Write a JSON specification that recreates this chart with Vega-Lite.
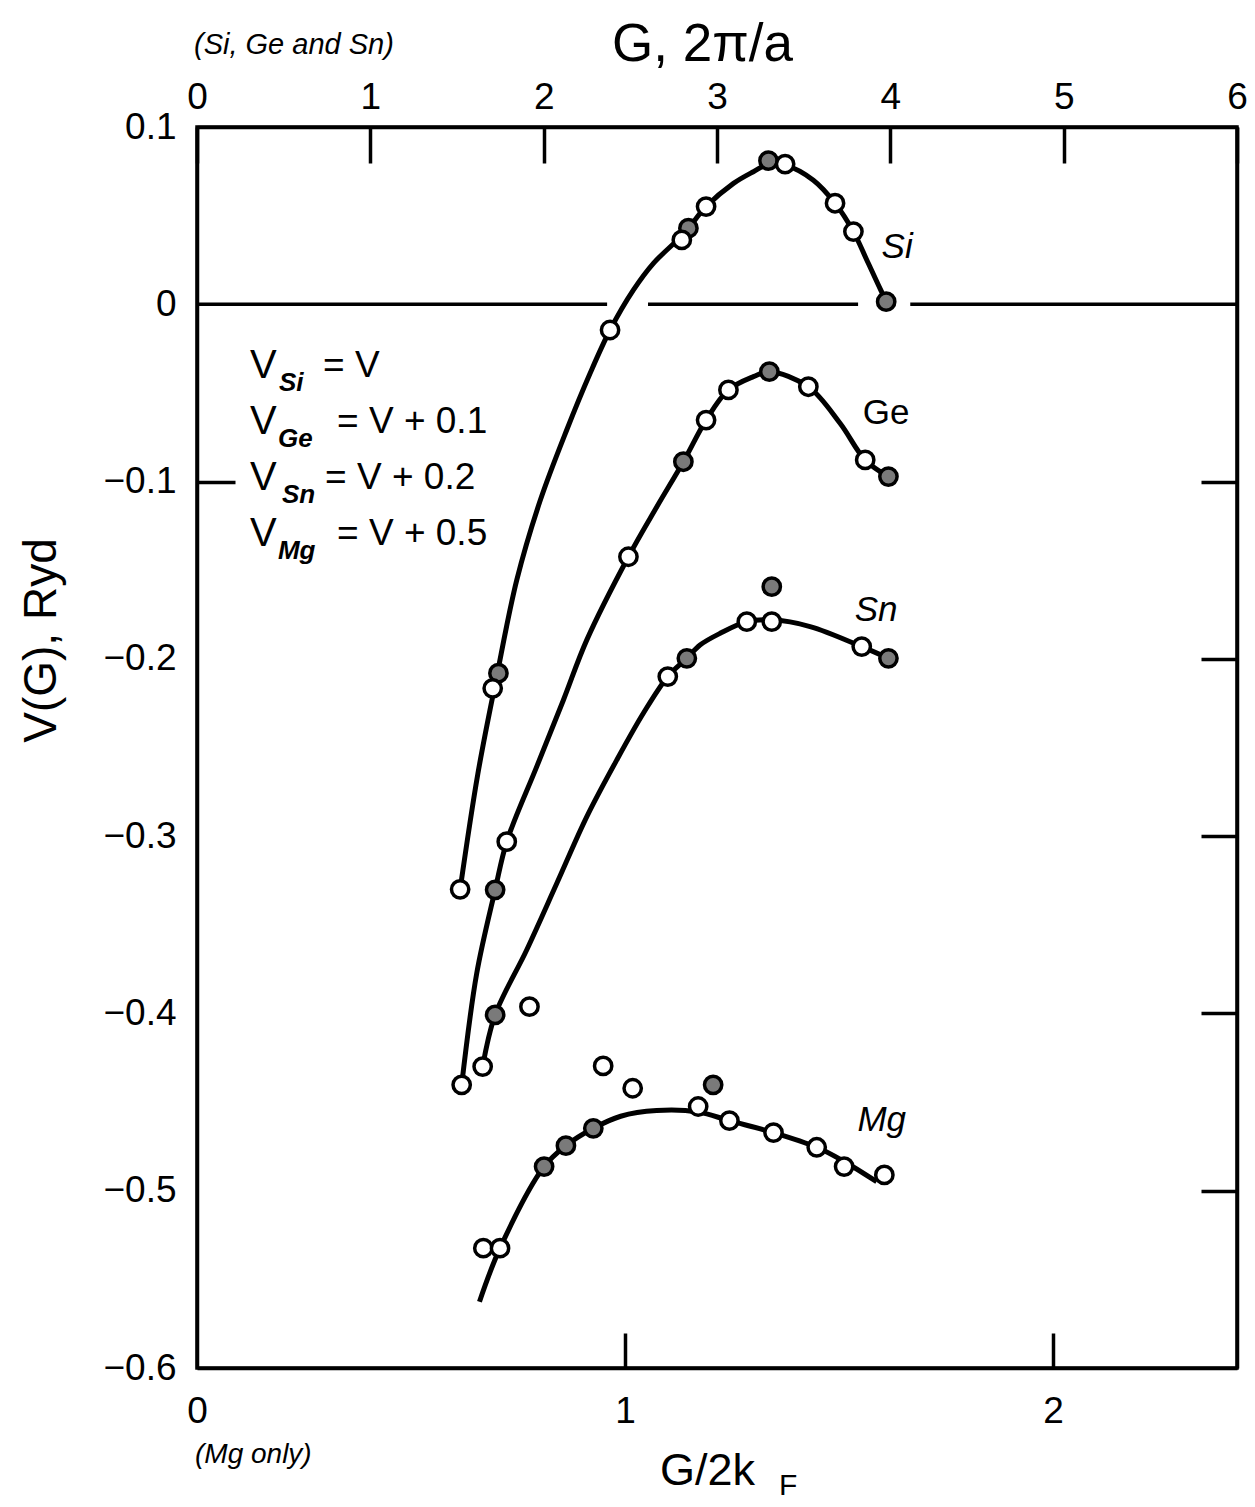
{
  "$schema": "https://vega.github.io/schema/vega-lite/v6.json",
  "width": 1040,
  "height": 1241,
  "autosize": {"type": "none"},
  "padding": {"left": 197, "top": 127, "right": 18, "bottom": 139},
  "background": "white",
  "config": {
    "view": {"stroke": "black", "strokeWidth": 3.5},
    "font": "Liberation Sans",
    "axis": {
      "domainColor": "black", "domainWidth": 3.5, "tickColor": "black", "tickWidth": 3.5,
      "labelColor": "black", "titleColor": "black", "labelFont": "Liberation Sans", "titleFont": "Liberation Sans",
      "labelFontSize": 37, "titleFontSize": 46, "titleFontWeight": "normal", "grid": false,
      "labelFlush": false, "labelOverlap": false, "labelBound": false
    }
  },
  "datasets": {
    "zero": [
      {"G": 0, "G2": 2.366, "V": 0},
      {"G": 2.602, "G2": 3.814, "V": 0},
      {"G": 4.115, "G2": 6, "V": 0}
    ],
    "sgsCurve": [
      {"series": "Si", "G": 1.518, "V": -0.330},
      {"series": "Si", "G": 1.62, "V": -0.265},
      {"series": "Si", "G": 1.725, "V": -0.212},
      {"series": "Si", "G": 1.845, "V": -0.1555},
      {"series": "Si", "G": 1.979, "V": -0.111},
      {"series": "Si", "G": 2.133, "V": -0.0709},
      {"series": "Si", "G": 2.268, "V": -0.0389},
      {"series": "Si", "G": 2.383, "V": -0.0145},
      {"series": "Si", "G": 2.518, "V": 0.0081},
      {"series": "Si", "G": 2.633, "V": 0.0231},
      {"series": "Si", "G": 2.81, "V": 0.040},
      {"series": "Si", "G": 2.937, "V": 0.0551},
      {"series": "Si", "G": 3.095, "V": 0.0682},
      {"series": "Si", "G": 3.21, "V": 0.0748},
      {"series": "Si", "G": 3.297, "V": 0.079},
      {"series": "Si", "G": 3.393, "V": 0.0785},
      {"series": "Si", "G": 3.556, "V": 0.070},
      {"series": "Si", "G": 3.681, "V": 0.057},
      {"series": "Si", "G": 3.787, "V": 0.041},
      {"series": "Si", "G": 3.864, "V": 0.025},
      {"series": "Si", "G": 3.931, "V": 0.0109},
      {"series": "Si", "G": 3.976, "V": 0.0015},
      {"series": "Ge", "G": 1.527, "V": -0.4403},
      {"series": "Ge", "G": 1.614, "V": -0.3773},
      {"series": "Ge", "G": 1.720, "V": -0.3303},
      {"series": "Ge", "G": 1.787, "V": -0.3031},
      {"series": "Ge", "G": 1.960, "V": -0.2608},
      {"series": "Ge", "G": 2.114, "V": -0.2232},
      {"series": "Ge", "G": 2.249, "V": -0.1893},
      {"series": "Ge", "G": 2.489, "V": -0.1424},
      {"series": "Ge", "G": 2.653, "V": -0.1142},
      {"series": "Ge", "G": 2.806, "V": -0.0888},
      {"series": "Ge", "G": 2.937, "V": -0.0653},
      {"series": "Ge", "G": 3.066, "V": -0.0483},
      {"series": "Ge", "G": 3.21, "V": -0.0408},
      {"series": "Ge", "G": 3.302, "V": -0.038},
      {"series": "Ge", "G": 3.527, "V": -0.0465},
      {"series": "Ge", "G": 3.710, "V": -0.0671},
      {"series": "Ge", "G": 3.855, "V": -0.0878},
      {"series": "Ge", "G": 3.989, "V": -0.0972},
      {"series": "Sn", "G": 1.648, "V": -0.430},
      {"series": "Sn", "G": 1.720, "V": -0.4008},
      {"series": "Sn", "G": 1.902, "V": -0.3642},
      {"series": "Sn", "G": 2.076, "V": -0.3266},
      {"series": "Sn", "G": 2.249, "V": -0.289},
      {"series": "Sn", "G": 2.422, "V": -0.257},
      {"series": "Sn", "G": 2.575, "V": -0.2307},
      {"series": "Sn", "G": 2.716, "V": -0.210},
      {"series": "Sn", "G": 2.826, "V": -0.1997},
      {"series": "Sn", "G": 2.902, "V": -0.1922},
      {"series": "Sn", "G": 3.018, "V": -0.1856},
      {"series": "Sn", "G": 3.172, "V": -0.179},
      {"series": "Sn", "G": 3.316, "V": -0.178},
      {"series": "Sn", "G": 3.537, "V": -0.1818},
      {"series": "Sn", "G": 3.835, "V": -0.1931},
      {"series": "Sn", "G": 3.989, "V": -0.1997}
    ],
    "sgsPts": [
      {"series": "Si", "G": 1.518, "V": -0.330, "kind": "open"},
      {"series": "Si", "G": 1.739, "V": -0.2081, "kind": "filled"},
      {"series": "Si", "G": 1.706, "V": -0.2166, "kind": "open"},
      {"series": "Si", "G": 2.383, "V": -0.0145, "kind": "open"},
      {"series": "Si", "G": 2.835, "V": 0.0429, "kind": "filled"},
      {"series": "Si", "G": 2.797, "V": 0.0363, "kind": "open"},
      {"series": "Si", "G": 2.937, "V": 0.0551, "kind": "open"},
      {"series": "Si", "G": 3.297, "V": 0.081, "kind": "filled"},
      {"series": "Si", "G": 3.393, "V": 0.0791, "kind": "open"},
      {"series": "Si", "G": 3.681, "V": 0.057, "kind": "open"},
      {"series": "Si", "G": 3.787, "V": 0.041, "kind": "open"},
      {"series": "Si", "G": 3.976, "V": 0.0015, "kind": "filled"},
      {"series": "Ge", "G": 1.527, "V": -0.4403, "kind": "open"},
      {"series": "Ge", "G": 1.720, "V": -0.3303, "kind": "filled"},
      {"series": "Ge", "G": 1.787, "V": -0.3031, "kind": "open"},
      {"series": "Ge", "G": 2.489, "V": -0.1424, "kind": "open"},
      {"series": "Ge", "G": 2.806, "V": -0.0888, "kind": "filled"},
      {"series": "Ge", "G": 2.937, "V": -0.0653, "kind": "open"},
      {"series": "Ge", "G": 3.066, "V": -0.0483, "kind": "open"},
      {"series": "Ge", "G": 3.302, "V": -0.038, "kind": "filled"},
      {"series": "Ge", "G": 3.527, "V": -0.0465, "kind": "open"},
      {"series": "Ge", "G": 3.855, "V": -0.0878, "kind": "open"},
      {"series": "Ge", "G": 3.989, "V": -0.0972, "kind": "filled"},
      {"series": "Sn", "G": 1.648, "V": -0.430, "kind": "open"},
      {"series": "Sn", "G": 1.720, "V": -0.4008, "kind": "filled"},
      {"series": "Sn", "G": 1.918, "V": -0.3962, "kind": "open"},
      {"series": "Sn", "G": 2.716, "V": -0.210, "kind": "open"},
      {"series": "Sn", "G": 2.826, "V": -0.1997, "kind": "filled"},
      {"series": "Sn", "G": 3.172, "V": -0.179, "kind": "open"},
      {"series": "Sn", "G": 3.316, "V": -0.179, "kind": "open"},
      {"series": "Sn", "G": 3.316, "V": -0.1593, "kind": "filled"},
      {"series": "Sn", "G": 3.835, "V": -0.1931, "kind": "open"},
      {"series": "Sn", "G": 3.989, "V": -0.1997, "kind": "filled"}
    ],
    "seriesLabels": [
      {"name": "Si", "G": 4.039, "V": 0.0323},
      {"name": "Ge", "G": 3.976, "V": -0.0613},
      {"name": "Sn", "G": 3.918, "V": -0.1724}
    ],
    "formula": [
      {"part": "V", "t": "V", "G": 0.306, "V": -0.0346},
      {"part": "V", "t": "V", "G": 0.306, "V": -0.0662},
      {"part": "V", "t": "V", "G": 0.306, "V": -0.0978},
      {"part": "V", "t": "V", "G": 0.306, "V": -0.1294},
      {"part": "sub", "t": "Si", "G": 0.473, "V": -0.0346},
      {"part": "sub", "t": "Ge", "G": 0.467, "V": -0.0662},
      {"part": "sub", "t": "Sn", "G": 0.490, "V": -0.0978},
      {"part": "sub", "t": "Mg", "G": 0.467, "V": -0.1294},
      {"part": "rhs", "t": "= V", "G": 0.727, "V": -0.0346},
      {"part": "rhs", "t": "= V + 0.1", "G": 0.808, "V": -0.0662},
      {"part": "rhs", "t": "= V + 0.2", "G": 0.739, "V": -0.0978},
      {"part": "rhs", "t": "= V + 0.5", "G": 0.808, "V": -0.1294}
    ],
    "topNote": [
      {"t": "(Si, Ge and Sn)", "G": 0, "V": 0.146}
    ],
    "mgCurve": [
      {"x": 0.660, "V": -0.5626},
      {"x": 0.708, "V": -0.5324},
      {"x": 0.811, "V": -0.4864},
      {"x": 0.862, "V": -0.4746},
      {"x": 0.926, "V": -0.4648},
      {"x": 0.990, "V": -0.4580},
      {"x": 1.074, "V": -0.4548},
      {"x": 1.171, "V": -0.4556},
      {"x": 1.244, "V": -0.4605},
      {"x": 1.347, "V": -0.4672},
      {"x": 1.448, "V": -0.4755},
      {"x": 1.512, "V": -0.4835},
      {"x": 1.588, "V": -0.4949}
    ],
    "mgPts": [
      {"x": 0.669, "V": -0.5324, "kind": "open"},
      {"x": 0.708, "V": -0.5324, "kind": "open"},
      {"x": 0.811, "V": -0.4864, "kind": "filled"},
      {"x": 0.862, "V": -0.4746, "kind": "filled"},
      {"x": 0.926, "V": -0.4648, "kind": "filled"},
      {"x": 0.949, "V": -0.4296, "kind": "open"},
      {"x": 1.018, "V": -0.4422, "kind": "open"},
      {"x": 1.171, "V": -0.4525, "kind": "open"},
      {"x": 1.206, "V": -0.4403, "kind": "filled"},
      {"x": 1.244, "V": -0.4605, "kind": "open"},
      {"x": 1.347, "V": -0.4672, "kind": "open"},
      {"x": 1.448, "V": -0.4755, "kind": "open"},
      {"x": 1.512, "V": -0.4864, "kind": "open"},
      {"x": 1.606, "V": -0.4911, "kind": "open"}
    ],
    "mgText": [
      {"part": "label", "t": "Mg", "x": 1.600, "V": -0.460},
      {"part": "note", "t": "(Mg only)", "x": 0, "V": -0.649},
      {"part": "sub", "t": "F", "x": 1.381, "V": -0.6665}
    ]
  },
  "layer": [
    {
      "encoding": {
        "x": {
          "field": "G", "type": "quantitative",
          "scale": {"domain": [0, 6], "nice": false, "zero": false},
          "axis": {
            "orient": "top", "values": [0, 1, 2, 3, 4, 5, 6], "format": "d",
            "tickSize": -36, "labelPadding": 47,
            "title": "G,  2π/a", "titleFontSize": 53, "titleX": 505, "titleY": -83,
            "titleAlign": "center", "titleBaseline": "middle", "titleAngle": 0
          }
        },
        "y": {
          "field": "V", "type": "quantitative",
          "scale": {"domain": [-0.6, 0.1], "nice": false, "zero": false},
          "axis": {
            "orient": "left", "values": [0.1, 0, -0.1, -0.2, -0.3, -0.4, -0.5, -0.6],
            "labelExpr": "datum.value == 0 ? '0' : format(datum.value, '.1f')",
            "tickSize": -38,
            "tickOpacity": {"condition": {"test": "abs(datum.value + 0.1) < 0.001", "value": 1}, "value": 0},
            "labelPadding": 59,
            "title": "V(G), Ryd", "titleFontSize": 46, "titleX": -156, "titleY": 513,
            "titleAngle": -90, "titleAlign": "center", "titleBaseline": "middle"
          }
        }
      },
      "layer": [
        {
          "data": {"name": "zero"},
          "mark": {"type": "rule", "strokeWidth": 3.5, "color": "black"},
          "encoding": {"x2": {"field": "G2"}}
        },
        {
          "data": {"name": "sgsCurve"},
          "mark": {"type": "line", "interpolate": "catmull-rom", "strokeWidth": 5, "color": "black"},
          "encoding": {"detail": {"field": "series", "type": "nominal"}}
        },
        {
          "data": {"name": "sgsPts"},
          "mark": {"type": "point", "shape": "circle", "filled": true, "size": 300, "stroke": "black", "strokeWidth": 3.5, "opacity": 1},
          "encoding": {
            "fill": {"field": "kind", "type": "nominal", "scale": {"domain": ["open", "filled"], "range": ["white", "#7a7a7a"]}, "legend": null}
          }
        },
        {
          "data": {"name": "seriesLabels"},
          "transform": [{"filter": "datum.name != 'Ge'"}],
          "mark": {"type": "text", "fontSize": 35, "fontStyle": "italic", "align": "center", "baseline": "middle"},
          "encoding": {"text": {"field": "name"}}
        },
        {
          "data": {"name": "seriesLabels"},
          "transform": [{"filter": "datum.name == 'Ge'"}],
          "mark": {"type": "text", "fontSize": 35, "align": "center", "baseline": "middle"},
          "encoding": {"text": {"field": "name"}}
        },
        {
          "data": {"name": "formula"},
          "transform": [{"filter": "datum.part == 'V'"}],
          "mark": {"type": "text", "fontSize": 40, "align": "left", "baseline": "middle"},
          "encoding": {"text": {"field": "t"}}
        },
        {
          "data": {"name": "formula"},
          "transform": [{"filter": "datum.part == 'sub'"}],
          "mark": {"type": "text", "fontSize": 26, "fontStyle": "italic", "fontWeight": "bold", "align": "left", "baseline": "middle", "dy": 17},
          "encoding": {"text": {"field": "t"}}
        },
        {
          "data": {"name": "formula"},
          "transform": [{"filter": "datum.part == 'rhs'"}],
          "mark": {"type": "text", "fontSize": 37, "align": "left", "baseline": "middle"},
          "encoding": {"text": {"field": "t"}}
        },
        {
          "data": {"name": "topNote"},
          "mark": {"type": "text", "fontSize": 29, "fontStyle": "italic", "align": "left", "baseline": "middle", "dx": -3},
          "encoding": {"text": {"field": "t"}}
        }
      ]
    },
    {
      "encoding": {
        "x": {
          "field": "x", "type": "quantitative",
          "scale": {"domain": [0, 2.43], "nice": false, "zero": false},
          "axis": {
            "orient": "bottom", "values": [0, 1, 2], "format": "d",
            "tickSize": -35,
            "tickOpacity": {"condition": {"test": "datum.value == 0", "value": 0}, "value": 1},
            "labelPadding": 60,
            "title": "G/2k", "titleFontSize": 45, "titleX": 510, "titleY": 102,
            "titleAlign": "center", "titleBaseline": "middle", "titleAngle": 0
          }
        },
        "y": {
          "field": "V", "type": "quantitative",
          "scale": {"domain": [-0.6, 0.1], "nice": false, "zero": false},
          "axis": {
            "orient": "right", "values": [-0.1, -0.2, -0.3, -0.4, -0.5],
            "labels": false, "tickSize": -36, "title": null
          }
        }
      },
      "layer": [
        {
          "data": {"name": "mgCurve"},
          "mark": {"type": "line", "interpolate": "catmull-rom", "strokeWidth": 5, "color": "black"},
          "encoding": {}
        },
        {
          "data": {"name": "mgPts"},
          "mark": {"type": "point", "shape": "circle", "filled": true, "size": 300, "stroke": "black", "strokeWidth": 3.5, "opacity": 1},
          "encoding": {
            "fill": {"field": "kind", "type": "nominal", "scale": {"domain": ["open", "filled"], "range": ["white", "#7a7a7a"]}, "legend": null}
          }
        },
        {
          "data": {"name": "mgText"},
          "transform": [{"filter": "datum.part == 'label'"}],
          "mark": {"type": "text", "fontSize": 35, "fontStyle": "italic", "align": "center", "baseline": "middle"},
          "encoding": {"text": {"field": "t"}}
        },
        {
          "data": {"name": "mgText"},
          "transform": [{"filter": "datum.part == 'note'"}],
          "mark": {"type": "text", "fontSize": 28, "fontStyle": "italic", "align": "left", "baseline": "middle", "dx": -2},
          "encoding": {"text": {"field": "t"}}
        },
        {
          "data": {"name": "mgText"},
          "transform": [{"filter": "datum.part == 'sub'"}],
          "mark": {"type": "text", "fontSize": 30, "align": "center", "baseline": "middle"},
          "encoding": {"text": {"field": "t"}}
        }
      ]
    }
  ],
  "resolve": {"scale": {"x": "independent"}, "axis": {"y": "independent"}}
}
